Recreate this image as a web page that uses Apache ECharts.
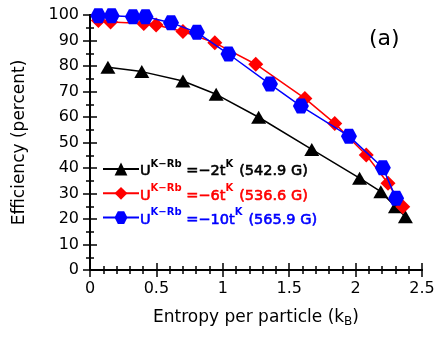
<!DOCTYPE html>
<html><head><meta charset="utf-8">
<script src="https://cdn.jsdelivr.net/npm/echarts@6/dist/echarts.min.js"></script>
<style>html,body{margin:0;padding:0;background:#fff}#c{width:443px;height:337px}</style>
</head><body><div id="c"></div>
<script>
const xBlack = [0.135, 0.39, 0.70, 0.95, 1.27, 1.67, 2.03, 2.19, 2.30, 2.375];
const yBlack = [79.5, 77.8, 74.1, 68.9, 59.9, 47.3, 36.0, 30.7, 24.8, 20.9];
const xRed = [0.063, 0.155, 0.405, 0.498, 0.70, 0.94, 1.248, 1.618, 1.843, 2.08, 2.244, 2.355];
const yRed = [97.8, 97.3, 96.7, 96.1, 93.5, 89.1, 80.7, 67.3, 57.5, 45.1, 34.0, 24.8];
const xBlue = [0.063, 0.163, 0.323, 0.418, 0.61, 0.805, 1.043, 1.355, 1.588, 1.95, 2.205, 2.305];
const yBlue = [99.7, 99.7, 99.3, 99.3, 97.0, 93.2, 84.7, 72.9, 64.3, 52.5, 40.1, 28.1];
const seriesNames = ['U=-2t (542.9 G)', 'U=-6t (536.6 G)', 'U=-10t (565.9 G)'];
const legendCoef = ['=−2t', '=−6t', '=−10t'];
const legendField = ['(542.9 G)', '(536.6 G)', '(565.9 G)'];
const colors = ['#000000', '#ff0000', '#0000ff'];
const xTicks = [0, 0.5, 1, 1.5, 2, 2.5];
const yTicks = [0, 10, 20, 30, 40, 50, 60, 70, 80, 90, 100];

const hex = 'path://M-1,0 L-0.5,-0.866 L0.5,-0.866 L1,0 L0.5,0.866 L-0.5,0.866 Z';
const pair = (xs, ys) => xs.map((x, i) => [x, ys[i]]);
const font = 'DejaVu Sans, sans-serif';

const rich = {};
colors.forEach((c, i) => {
  const main = {fontFamily: font, fontSize: 14.5, fontWeight: 'normal', color: c, textBorderColor: c, textBorderWidth: 0.6,
    verticalAlign: 'bottom', lineHeight: 20};
  rich['u' + i] = main;
  rich['c' + i] = Object.assign({}, main);
  rich['f' + i] = Object.assign({}, main, {padding: [0, 0, 0, 6]});
  rich['s' + i] = {fontFamily: font, fontSize: 10, fontWeight: 'bold', color: c, verticalAlign: 'top',
    lineHeight: 20, padding: [0, 0, 7, 0]};
});

const chart = echarts.init(document.getElementById('c'), null, {renderer: 'canvas'});
const base = {
  axisLine: {show: true, lineStyle: {color: '#000', width: 2}},
  axisTick: {inside: true, length: 7, lineStyle: {color: '#000', width: 1.5}},
  splitLine: {show: false}
};
const mt = n => ({show: true, splitNumber: n, length: 4, lineStyle: {color: '#000', width: 1.5}});
chart.setOption({
  animation: false,
  grid: {left: 90, right: 21, top: 15, bottom: 67},
  xAxis: [
    Object.assign({type: 'value', min: 0, max: 2.5, interval: 0.5, position: 'bottom', minorTick: mt(5),
      axisLabel: {color: '#000', fontSize: 16, fontFamily: font, margin: 11,
        formatter: v => { const t = xTicks.find(k => Math.abs(k - v) < 1e-9); return t === undefined ? '' : String(t); }},
      name: 'Entropy per particle (k{sub|B})', nameLocation: 'middle', nameGap: 37,
      nameTextStyle: {color: '#000', fontSize: 17, fontFamily: font,
        rich: {sub: {fontSize: 12, fontFamily: font, color: '#000', padding: [9, 0, 0, 0]}}}
    }, base),
    Object.assign({type: 'value', min: 0, max: 2.5, interval: 0.5, position: 'top', minorTick: mt(5),
      axisLabel: {show: false}}, base)
  ],
  yAxis: [
    Object.assign({type: 'value', min: 0, max: 100, interval: 10, position: 'left', minorTick: mt(2),
      axisLabel: {color: '#000', fontSize: 16, fontFamily: font, margin: 11,
        formatter: v => { const t = yTicks.find(k => Math.abs(k - v) < 1e-9); return t === undefined ? '' : String(t); }},
      name: 'Efficiency (percent)', nameLocation: 'middle', nameGap: 62, nameRotate: 90,
      nameTextStyle: {color: '#000', fontSize: 17, fontFamily: font}
    }, base),
    Object.assign({type: 'value', min: 0, max: 100, interval: 10, position: 'right', minorTick: mt(2),
      axisLabel: {show: false}}, base)
  ],
  legend: {
    left: 102, top: 159, padding: 0, orient: 'vertical', itemGap: 4, itemWidth: 36, itemHeight: 16,
    data: seriesNames.map((n, i) => ({name: n, textStyle: {color: colors[i]}})),
    formatter: name => {
      const i = seriesNames.indexOf(name);
      return '{u' + i + '|U}{s' + i + '|K−Rb}{c' + i + '| ' + legendCoef[i] + '}{s' + i + '|K}{f' + i + '|' + legendField[i] + '}';
    },
    textStyle: {fontFamily: font, fontSize: 14.5, padding: [0, 0, 0, -4], rich: rich}
  },
  graphic: [{type: 'text', left: 369, top: 28, style: {text: '(a)', font: '22px ' + font, fill: '#000'}}],
  series: [
    {name: seriesNames[0], type: 'line', data: pair(xBlack, yBlack), color: colors[0],
      symbol: 'triangle', symbolSize: [15, 13], lineStyle: {width: 1.5}, z: 3},
    {name: seriesNames[1], type: 'line', data: pair(xRed, yRed), color: colors[1],
      symbol: 'diamond', symbolSize: 15, lineStyle: {width: 1.5}, z: 4},
    {name: seriesNames[2], type: 'line', data: pair(xBlue, yBlue), color: colors[2],
      symbol: hex, symbolSize: [16, 15], lineStyle: {width: 1.5}, z: 5}
  ]
});
</script></body></html>
